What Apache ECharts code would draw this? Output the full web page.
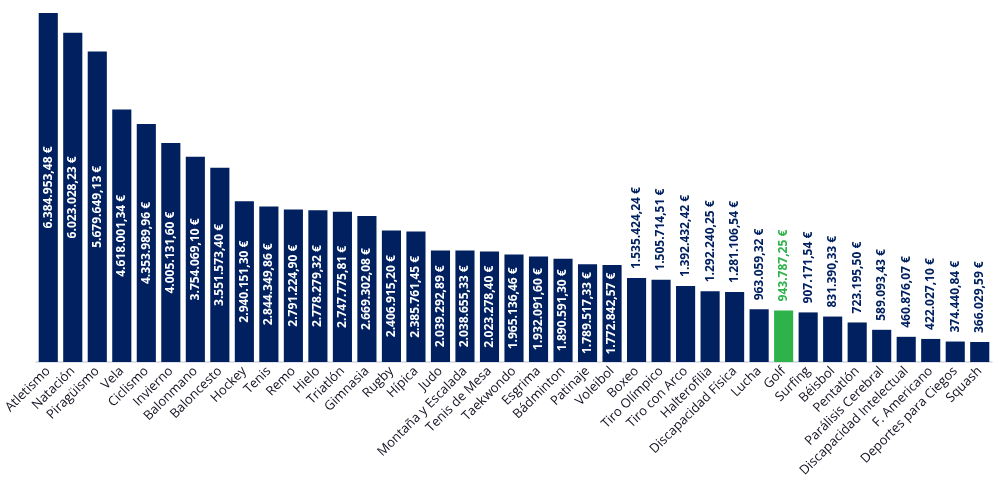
<!DOCTYPE html>
<html>
<head>
<meta charset="utf-8">
<script src="https://cdn.jsdelivr.net/npm/echarts@6/dist/echarts.min.js"></script>
<style>
  html, body { margin: 0; padding: 0; background: #fff; }
  #chart { width: 1000px; height: 491px; }
</style>
</head>
<body>
<div id="chart"></div>
<script>
// disciplinas
var categories = ['Atletismo', 'Natación', 'Piragüismo', 'Vela', 'Ciclismo', 'Invierno', 'Balonmano', 'Baloncesto',
	'Hockey', 'Tenis', 'Remo', 'Hielo', 'Triatlón', 'Gimnasia', 'Rugby', 'Hípica', 'Judo', 'Montaña y Escalada',
	'Tenis de Mesa', 'Taekwondo', 'Esgrima', 'Bádminton', 'Patinaje', 'Voleibol', 'Boxeo', 'Tiro Olímpico',
	'Tiro con Arco', 'Halterofilia', 'Discapacidad Física', 'Lucha', 'Golf', 'Surfing', 'Béisbol', 'Pentatlón',
	'Parálisis Cerebral', 'Discapacidad Intelectual', 'F. Americano', 'Deportes para Ciegos', 'Squash']

// importes en euros
var values = [6384953.48, 6023028.23, 5679649.13, 4618001.34, 4353989.96, 4005131.60, 3754069.10, 3551573.40,
	2940151.30, 2844349.86, 2791224.90, 2778279.32, 2747775.81, 2669302.08, 2406915.20, 2385761.45, 2039292.89, 2038655.33,
	2023278.40, 1965136.46, 1932091.60, 1890591.30, 1789517.33, 1772842.57, 1535424.24, 1505714.51,
	1392432.42, 1292240.25, 1281106.54, 963059.32, 943787.25, 907171.54, 831390.33, 723195.50,
	589093.43, 460876.07, 422027.10, 374440.84, 366029.59]

var highlight = ['Golf']

var navy = '#002060'
var green = '#2db34a'
var insideLimit = 1700000	// por encima, etiqueta dentro de la barra

// 1234567.8 -> "1.234.567,80 €"
function euro(v) {
	var parts = v.toFixed(2).split('.')
	var ent = parts[0].replace(/\B(?=(\d{3})+(?!\d))/g, '.')
	return ent + ',' + parts[1] + ' €'
}

var valueFont = { fontFamily: 'Open Sans', fontWeight: 'bold', fontSize: 12 }

var data = values.map(function(v, i) {
	var hi = highlight.indexOf(categories[i]) >= 0
	var item = { value: v, itemStyle: { color: hi ? green : navy } }
	if (v >= insideLimit) {
		item.label = Object.assign({
			show: true, position: 'inside', rotate: 90, color: '#fff'
		}, valueFont)
	} else {
		item.label = Object.assign({
			show: true, position: 'top', rotate: 90, align: 'left', verticalAlign: 'middle',
			distance: 9, color: hi ? green : navy
		}, valueFont)
	}
	return item
})

var chart = echarts.init(document.getElementById('chart'))

var option = {}
option.animation = false
option.grid = { left: 36, right: 8, top: 13, bottom: 129 }

option.xAxis = {
	type: 'category',
	data: categories,
	axisTick: { show: false },
	axisLine: { lineStyle: { color: '#d3d8e2', width: 1.5 } },
	axisLabel: {
		interval: 0,
		rotate: 45,
		margin: 7,
		color: '#111122',
		fontFamily: 'Open Sans',
		fontSize: 13
	}
}

option.yAxis = {
	type: 'value',
	min: 0,
	max: 'dataMax',
	show: false,
	splitLine: { show: false }
}

option.series = [{
	type: 'bar',
	data: data,
	barCategoryGap: '22%',
	label: {
		formatter: function(p) { return euro(p.value) }
	}
}]

chart.setOption(option)
</script>
</body>
</html>
